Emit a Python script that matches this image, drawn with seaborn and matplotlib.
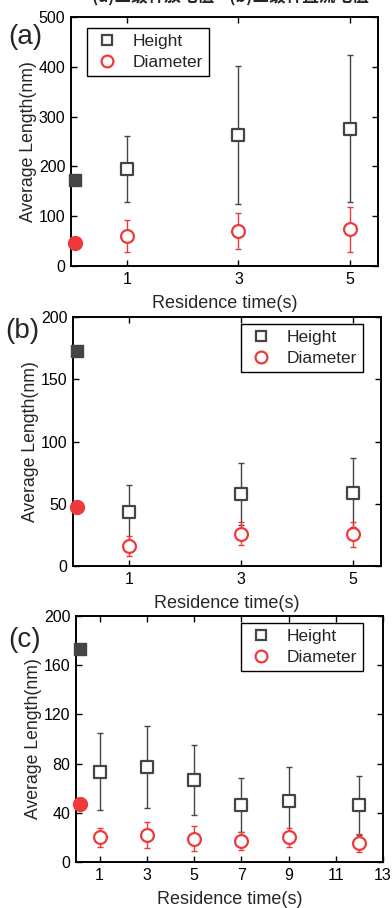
import numpy as np
import pandas as pd
import matplotlib
matplotlib.use("Agg")
import matplotlib.pyplot as plt
from matplotlib.lines import Line2D
import seaborn as sns

sns.set_theme(style="ticks")
plt.rcParams['font.family'] = ['Liberation Sans', 'Noto Sans CJK SC', 'DejaVu Sans']

# ---- data ----
ref_height = 173
ref_diameter = 47

a_time = [1, 3, 5]
a_height = [195, 263, 276]
a_height_err = [67, 138, 147]
a_diam = [60, 71, 74]
a_diam_err = [32, 36, 45]

b_time = [1, 3, 5]
b_height = [43, 58, 59]
b_height_err = [22, 25, 28]
b_diam = [16, 26, 25.5]
b_diam_err = [8, 9, 10]

c_time = [1, 3, 5, 7, 9, 12]
c_height = [73.5, 77, 66.5, 46, 50, 46]
c_height_err = [31, 33.5, 28.5, 22, 27, 24]
c_diam = [20, 22, 19, 17, 20, 15.4]
c_diam_err = [8, 10.5, 10, 7, 8, 7.5]

GRAY = '#454545'
RED = '#ee3a3a'

W, H = 392, 908
fig = plt.figure(figsize=(W/100, H/100), dpi=100)

def ax_at(l, t, r, b):
    return fig.add_axes([l/W, 1-b/H, (r-l)/W, (b-t)/H])

panels = [
    dict(box=(71, 17, 378, 266), t=a_time, h=a_height, he=a_height_err, d=a_diam, de=a_diam_err,
         xlim=(0, 5.5), xt=[1, 3, 5], ylim=(0, 500), yt=[0, 100, 200, 300, 400, 500],
         leg=('upper left', (0.052, 0.956)), lab='(a)', labpos=(25, 37)),
    dict(box=(73, 317, 381, 566), t=b_time, h=b_height, he=b_height_err, d=b_diam, de=b_diam_err,
         xlim=(0, 5.5), xt=[1, 3, 5], ylim=(0, 200), yt=[0, 50, 100, 150, 200],
         leg=('upper right', (0.942, 0.972)), lab='(b)', labpos=(22, 331)),
    dict(box=(76, 616, 383, 862), t=c_time, h=c_height, he=c_height_err, d=c_diam, de=c_diam_err,
         xlim=(0, 13), xt=[1, 3, 5, 7, 9, 11, 13], ylim=(0, 200), yt=[0, 40, 80, 120, 160, 200],
         leg=('upper right', (0.935, 0.972)), lab='(c)', labpos=(25, 640)),
]

for p in panels:
    ax = ax_at(*p['box'])
    xr = p['xlim'][1] - p['xlim'][0]
    x0 = p['xlim'][0] + xr * 0.014
    # error bars
    ax.errorbar(p['t'], p['h'], yerr=p['he'], fmt='none', ecolor=GRAY, elinewidth=1.0,
                capsize=2.2, capthick=1.0, zorder=2)
    ax.errorbar(p['t'], p['d'], yerr=p['de'], fmt='none', ecolor=RED, elinewidth=1.0,
                capsize=2.2, capthick=1.0, zorder=2)
    dfh = pd.DataFrame({'t': p['t'], 'v': p['h']})
    dfd = pd.DataFrame({'t': p['t'], 'v': p['d']})
    sns.scatterplot(data=dfh, x='t', y='v', ax=ax, marker='s', s=70, facecolor='white',
                    edgecolor=GRAY, linewidth=1.6, zorder=3)
    sns.scatterplot(data=dfd, x='t', y='v', ax=ax, marker='o', s=85, facecolor='white',
                    edgecolor=RED, linewidth=1.6, zorder=3)
    ax.scatter([x0], [ref_height], marker='s', s=75, color=GRAY, zorder=4, clip_on=False)
    ax.scatter([x0], [ref_diameter], marker='o', s=100, color=RED, zorder=4, clip_on=False)
    ax.set_xlim(*p['xlim'])
    ax.set_ylim(*p['ylim'])
    ax.set_xticks(p['xt'])
    ax.set_yticks(p['yt'])
    ax.tick_params(direction='in', top=True, right=True, length=4, width=1.0,
                   labelsize=11.5, colors='black', pad=4)
    for s in ax.spines.values():
        s.set_linewidth(1.4)
        s.set_color('black')
    ax.set_xlabel('Residence time(s)', fontsize=13, labelpad=6)
    ax.set_ylabel('Average Length(nm)', fontsize=12.7, labelpad=1)
    handles = [Line2D([], [], marker='s', ls='none', mfc='white', mec=GRAY, mew=1.6, ms=7.5, label='Height'),
               Line2D([], [], marker='o', ls='none', mfc='white', mec=RED, mew=1.6, ms=8.5, label='Diameter')]
    loc, anchor = p['leg']
    lg = ax.legend(handles=handles, loc=loc, bbox_to_anchor=anchor,
                   fontsize=12.5, frameon=True, fancybox=False,
                   edgecolor='black', framealpha=1, handletextpad=0.7, borderpad=0.35,
                   labelspacing=0.32, borderaxespad=0.0, handlelength=1.6)
    lg.get_frame().set_linewidth(1.0)
    fig.text(p['labpos'][0]/W, 1-p['labpos'][1]/H, p['lab'], fontsize=20,
             ha='center', va='center')

fig.text(230/W, 1 + 3/H, '(a)三级杆放电值    (b)三级杆直流电值', fontsize=12,
         ha='center', va='center', fontweight='bold',
         family=['Noto Sans CJK SC', 'DejaVu Sans'])

fig.savefig('out.png', dpi=100)
